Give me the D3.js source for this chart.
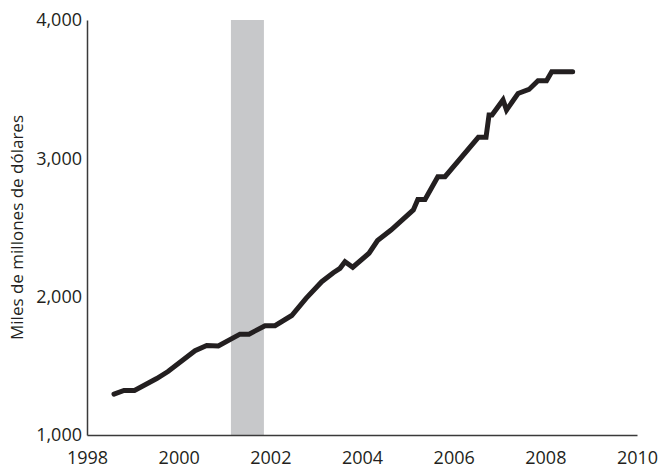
<!DOCTYPE html>
<html>
<head>
<meta charset="utf-8">
<script src="https://cdn.jsdelivr.net/npm/d3@7"></script>
<style>
  html, body { margin: 0; padding: 0; background: #fff; }
  svg { display: block; }
  text { font-family: "Open Sans", sans-serif; fill: #231f20; }
</style>
</head>
<body>
<svg id="chart" width="659" height="468"></svg>
<script>
// Data (year as decimal, value in miles de millones de dólares)
const years = [1998.589, 1998.807, 1999.036, 1999.521, 1999.767, 2000.357, 2000.612, 2000.865,
  2001.338, 2001.535, 2001.884, 2002.102, 2002.467, 2002.779, 2003.121, 2003.374, 2003.520,
  2003.629, 2003.798, 2004.153, 2004.339, 2004.633, 2005.120, 2005.218, 2005.375, 2005.654,
  2005.811, 2006.538, 2006.706, 2006.772, 2006.837, 2007.077, 2007.153, 2007.404, 2007.644,
  2007.840, 2008.026, 2008.139, 2008.596];
const values = [1296, 1322, 1322, 1408, 1459, 1609, 1647, 1643,
  1729, 1729, 1790, 1790, 1864, 1988, 2108, 2173, 2205,
  2253, 2213, 2314, 2406, 2482, 2627, 2702, 2702, 2867,
  2867, 3152, 3152, 3313, 3313, 3422, 3349, 3469, 3498,
  3561, 3561, 3626, 3626];
const recession = [2001.14, 2001.86];
const xTicks = [1998, 2000, 2002, 2004, 2006, 2008, 2010];
const yTicks = [1000, 2000, 3000, 4000];
const yTitle = "Miles de millones de dólares";

const svg = d3.select("#chart");
const x = d3.scaleLinear().domain([1998, 2010]).range([87, 637]);
const y = d3.scaleLinear().domain([1000, 4000]).range([435, 20]);

// recession band
svg.append("rect")
  .attr("x", x(recession[0]))
  .attr("width", x(recession[1]) - x(recession[0]))
  .attr("y", y(4000))
  .attr("height", y(1000) - y(4000))
  .attr("fill", "#c7c8ca");

// axes
const xAxis = d3.axisBottom(x).tickValues(xTicks).tickSize(0).tickPadding(0).tickFormat(d3.format("d"));
const gx = svg.append("g").attr("transform", `translate(0,${y(1000)})`).call(xAxis);
gx.select(".domain").attr("stroke", "#3a3a3a").attr("stroke-width", 1.5);
gx.selectAll("text").attr("font-size", 18).attr("dy", null).attr("y", 29).attr("fill", "#231f20")
  .attr("font-family", "Open Sans, sans-serif");

const yAxis = d3.axisLeft(y).tickValues(yTicks).tickSize(0).tickPadding(5).tickFormat(d3.format(","));
const gy = svg.append("g").attr("transform", `translate(${x(1998)},0)`).call(yAxis);
gy.select(".domain").attr("stroke", "#3a3a3a").attr("stroke-width", 1.5);
gy.selectAll("text").attr("font-size", 18).attr("fill", "#231f20")
  .attr("font-family", "Open Sans, sans-serif");

// y title
svg.append("text")
  .attr("transform", `translate(23,${(y(1000) + y(4000)) / 2}) rotate(-90)`)
  .attr("text-anchor", "middle")
  .attr("font-size", 17)
  .text(yTitle);

// line
const data = years.map((t, i) => ({ t, v: values[i] }));
const line = d3.line().x(d => x(d.t)).y(d => y(d.v));
svg.append("path")
  .datum(data)
  .attr("d", line)
  .attr("fill", "none")
  .attr("stroke", "#231f20")
  .attr("stroke-width", 5)
  .attr("stroke-linecap", "round")
  .attr("stroke-linejoin", "miter");
</script>
</body>
</html>
